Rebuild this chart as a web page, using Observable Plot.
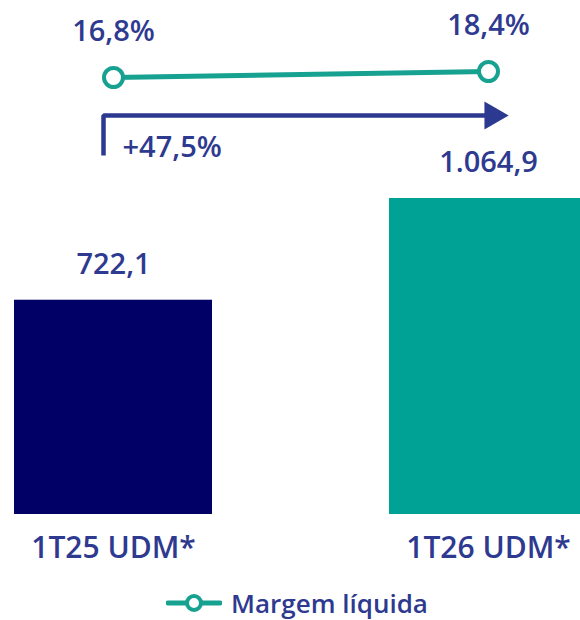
<!DOCTYPE html>
<html>
<head>
<meta charset="utf-8">
<script src="https://cdn.jsdelivr.net/npm/d3@7"></script>
<script src="https://cdn.jsdelivr.net/npm/@observablehq/plot@0.6"></script>
<style>
  body { margin: 0; background: #fff; }
  #wrap { position: relative; width: 580px; height: 620px; overflow: hidden; font-family: "Open Sans", sans-serif; }
  #wrap > svg { position: absolute; left: 0; top: 0; }
  #legend { position: absolute; left: 166px; top: 590px; display: flex; align-items: center; gap: 9px;
            color: #2e3a8f; font-weight: 600; font-size: 26px; line-height: 26px; height: 26px; }
</style>
</head>
<body>
<div id="wrap"></div>
<script>
const categories = ["1T25 UDM*", "1T26 UDM*"];
const lucro = [722.1, 1064.9];
const lucroLabels = ["722,1", "1.064,9"];
const margem = [16.8, 18.4];
const margemLabels = ["16,8%", "18,4%"];
const crescimento = "+47,5%";
const legendLabel = "Margem líquida";

const navy = "#000066";
const teal = "#00a295";
const lineTeal = "#17a190";
const textColor = "#2e3a8f";
const arrowColor = "#2b3990";

const bars = categories.map((c, i) => ({cat: c, value: lucro[i], label: lucroLabels[i]}));
const margins = categories.map((c, i) => ({cat: c, value: margem[i], label: margemLabels[i]}));
const arrowPath = [
  {cat: categories[0], level: "base"},
  {cat: categories[0], level: "tip"},
  {cat: categories[1], level: "tip"}
];

const wrap = document.getElementById("wrap");
const xBand = {type: "band", domain: categories, range: [14, 587], paddingInner: 0.472, paddingOuter: 0, axis: null};

// Bars layer
const barPlot = Plot.plot({
  width: 580,
  height: 580,
  marginTop: 0, marginBottom: 66, marginLeft: 0, marginRight: 0,
  style: {fontFamily: "Open Sans, sans-serif", background: "transparent", overflow: "visible"},
  x: xBand,
  y: {domain: [0, d3.max(lucro)], range: [514, 198], axis: null},
  color: {domain: categories, range: [navy, teal]},
  marks: [
    Plot.barY(bars, {x: "cat", y: "value", fill: "cat"}),
    Plot.text(bars, {x: "cat", y: "value", text: "label", dy: -36, fill: textColor,
      fontSize: 29, fontWeight: 600}),
    Plot.text(bars, {x: "cat", text: "cat", frameAnchor: "bottom", dy: 43, fill: textColor,
      fontSize: 30, fontWeight: 600})
  ]
});
wrap.appendChild(barPlot);

// Margin line layer
const linePlot = Plot.plot({
  width: 580,
  height: 200,
  margin: 0,
  style: {fontFamily: "Open Sans, sans-serif", background: "transparent", overflow: "visible"},
  x: xBand,
  y: {domain: d3.extent(margem), range: [77, 71], axis: null},
  marks: [
    Plot.line(margins, {x: "cat", y: "value", stroke: lineTeal, strokeWidth: 5}),
    Plot.dot(margins, {x: "cat", y: "value", r: 9.5, stroke: lineTeal, strokeWidth: 4, fill: "white"}),
    Plot.text(margins, {x: "cat", y: "value", text: "label", dy: -46, fill: textColor,
      fontSize: 29, fontWeight: 600})
  ]
});
wrap.appendChild(linePlot);

// Growth arrow layer
const arrowPlot = Plot.plot({
  width: 580,
  height: 200,
  margin: 0,
  style: {fontFamily: "Open Sans, sans-serif", background: "transparent", overflow: "visible"},
  x: {type: "point", domain: categories, range: [103, 490], padding: 0, axis: null},
  y: {type: "point", domain: ["base", "tip"], range: [155, 115], padding: 0, axis: null},
  marks: [
    Plot.line(arrowPath, {x: "cat", y: "level", stroke: arrowColor, strokeWidth: 4.5, strokeLinejoin: "miter", strokeLinecap: "butt"}),
    Plot.dot([arrowPath[2]], {x: "cat", y: "level", symbol: "triangle", r: 10.4, rotate: 90, fill: arrowColor, dx: 2}),
    Plot.text([arrowPath[0]], {x: "cat", y: "level", text: () => crescimento, dx: 19, dy: -8,
      textAnchor: "start", fill: textColor, fontSize: 29, fontWeight: 600})
  ]
});
wrap.appendChild(arrowPlot);

// Legend
const legend = document.createElement("div");
legend.id = "legend";
legend.innerHTML = `<svg width="56" height="22" viewBox="0 0 56 22">
  <line x1="2" y1="11" x2="54" y2="11" stroke="${lineTeal}" stroke-width="5" stroke-linecap="round"/>
  <circle cx="28" cy="11" r="7" fill="white" stroke="${lineTeal}" stroke-width="4"/>
</svg><span>${legendLabel}</span>`;
wrap.appendChild(legend);
</script>
</body>
</html>
